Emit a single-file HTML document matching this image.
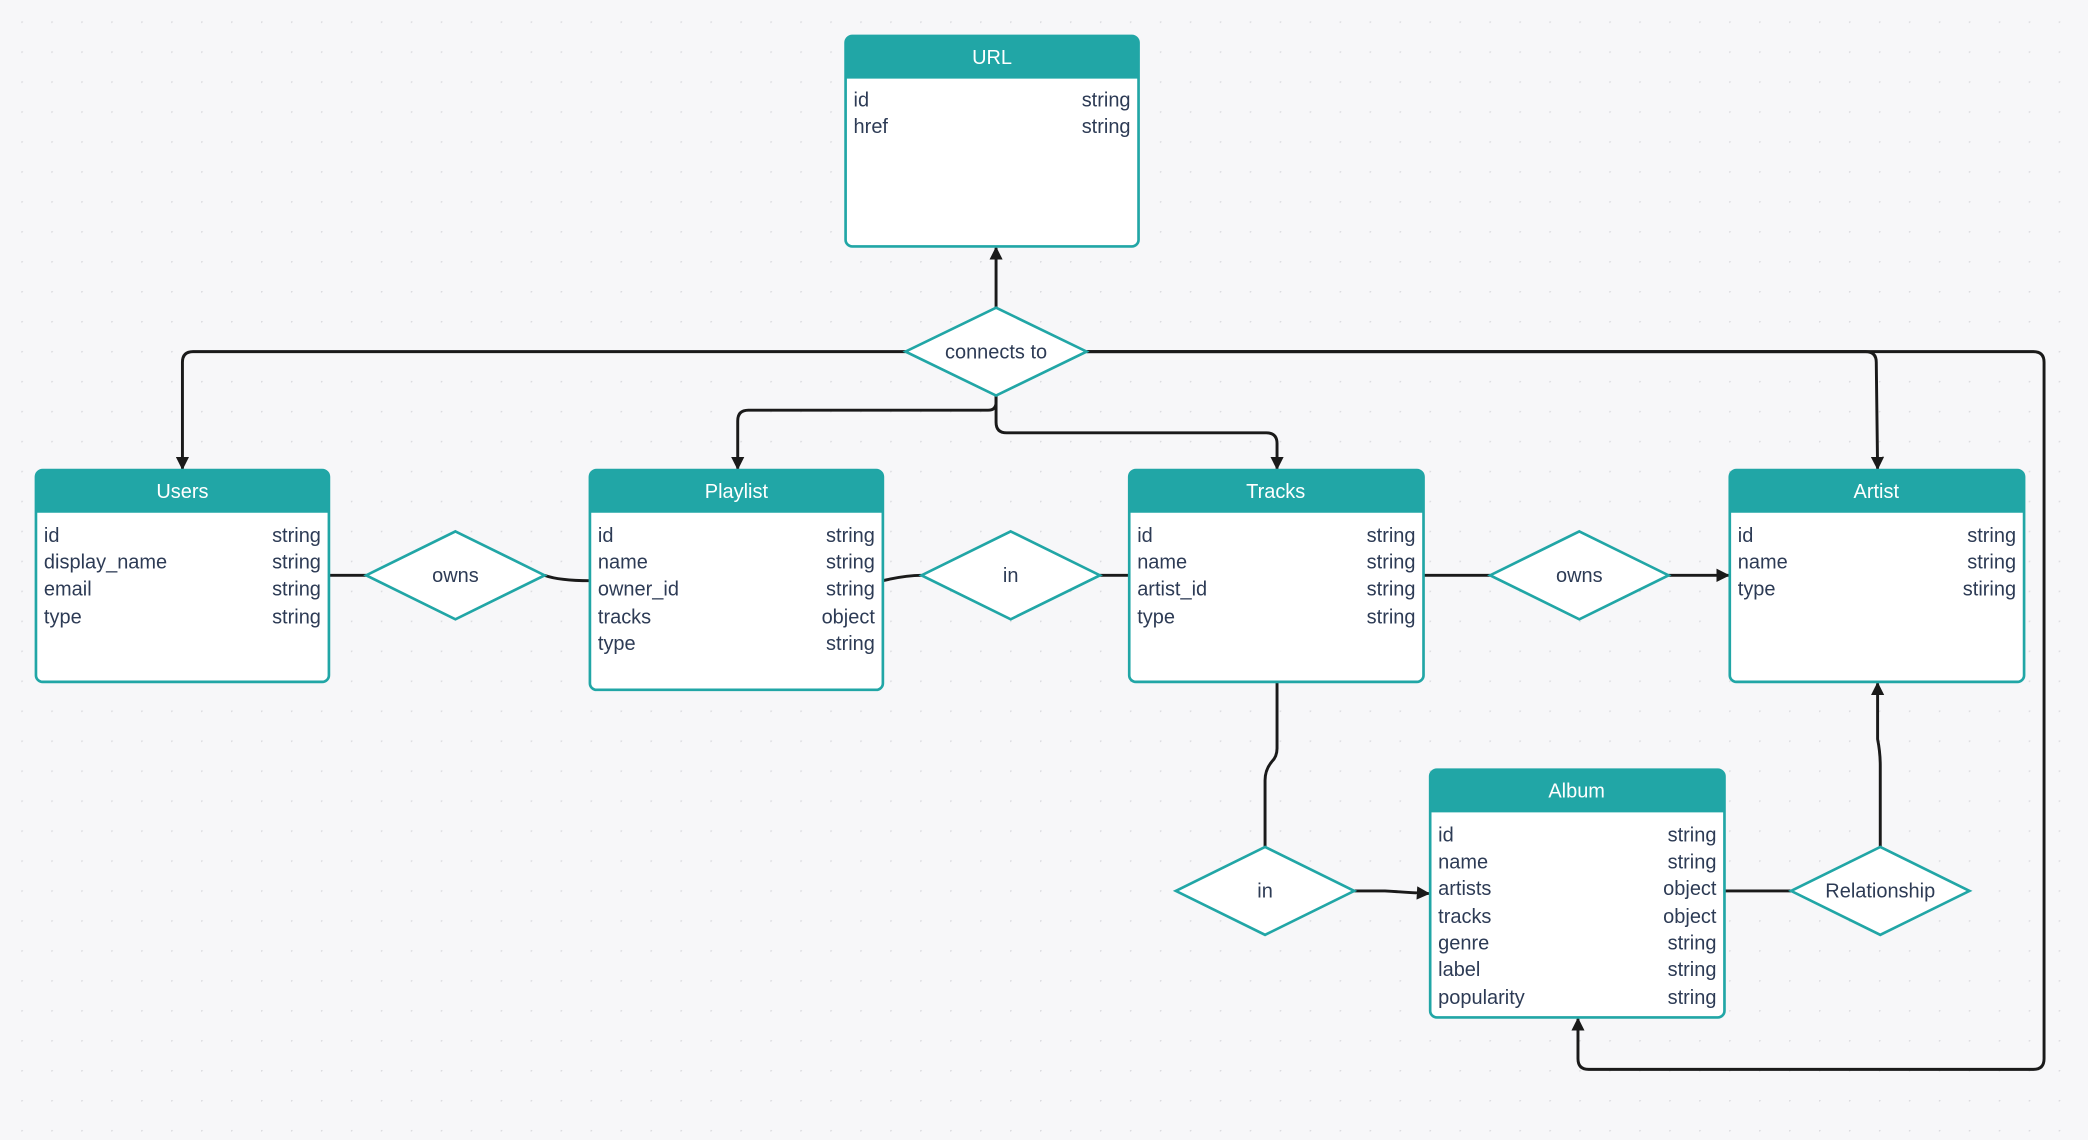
<!DOCTYPE html>
<html><head><meta charset="utf-8"><style>
html,body{margin:0;padding:0;background:#f7f7f9;}
svg{display:block;}
text{font-family:"Liberation Sans","DejaVu Sans",sans-serif;}
.h{fill:#fff;font-size:15px;text-anchor:middle;}
.r{fill:#2d3b55;font-size:15px;}
.t{fill:#2d3b55;font-size:15px;text-anchor:end;}
.d{fill:#2d3b55;font-size:15px;text-anchor:middle;}
.e{fill:none;stroke:#1a1a1a;stroke-width:2.2;}
.dm{fill:#fff;stroke:#21a6a6;stroke-width:2;}
</style></head><body>
<svg width="2088" height="1140" viewBox="0 0 1568 856" xmlns="http://www.w3.org/2000/svg">
<defs>
<pattern id="g" x="16" y="16" width="22.5" height="22.5" patternUnits="userSpaceOnUse"><circle cx="0" cy="0" r="1.3" fill="#dcdce0"/></pattern>
<marker id="a" markerWidth="10" markerHeight="10" refX="9" refY="5" orient="auto" markerUnits="userSpaceOnUse"><path d="M0,0 L10,5 L0,10 z" fill="#1a1a1a"/></marker>
</defs>
<rect width="1568" height="856" fill="#f7f7f9"/>
<rect width="1568" height="856" fill="url(#g)"/>

<!-- edges -->
<path class="e" d="M748,231 L748,186" marker-end="url(#a)"/>
<path class="e" d="M680,264 L145,264 Q137,264 137,272 L137,352" marker-end="url(#a)"/>
<path class="e" d="M748,297 L748,302 Q748,308 742,308 L562,308 Q554,308 554,316 L554,352" marker-end="url(#a)"/>
<path class="e" d="M748,297 L748,317 Q748,325 756,325 L951,325 Q959,325 959,333 L959,352" marker-end="url(#a)"/>
<path class="e" d="M816,264 L1401,264 Q1409,264 1409,272 L1410,352" marker-end="url(#a)"/>
<path class="e" d="M816,264 L1527,264 Q1535,264 1535,272 L1535,795 Q1535,803 1527,803 L1193,803 Q1185,803 1185,795 L1185,765" marker-end="url(#a)"/>
<path class="e" d="M247,432 L275,432"/>
<path class="e" d="M409,432 Q420,436 443,436"/>
<path class="e" d="M663,436 Q680,432 692,432"/>
<path class="e" d="M826,432 L848,432"/>
<path class="e" d="M1069,432 L1119,432"/>
<path class="e" d="M1253,432 L1298,432" marker-end="url(#a)"/>
<path class="e" d="M959,512 L959,562 Q959,568 955,572 Q950,578 950,586 L950,636"/>
<path class="e" d="M1017,669 L1040,669 Q1055,670 1073,671" marker-end="url(#a)"/>
<path class="e" d="M1295,669 Q1320,669 1345,669"/>
<path class="e" d="M1412,636 L1412,575 Q1412,565 1410,555 L1410,513" marker-end="url(#a)"/>

<!-- diamonds -->
<polygon class="dm" points="748,231 816,264 748,297 680,264"/><text class="d" x="748" y="269">connects to</text>
<polygon class="dm" points="342,399 409,432 342,465 275,432"/><text class="d" x="342" y="437">owns</text>
<polygon class="dm" points="759,399 826,432 759,465 692,432"/><text class="d" x="759" y="437">in</text>
<polygon class="dm" points="1186,399 1253,432 1186,465 1119,432"/><text class="d" x="1186" y="437">owns</text>
<polygon class="dm" points="950,636 1017,669 950,702 883,669"/><text class="d" x="950" y="674">in</text>
<polygon class="dm" points="1412,636 1479,669 1412,702 1345,669"/><text class="d" x="1412" y="674">Relationship</text>

<!-- tables -->
<g>
<rect x="635" y="27" width="220" height="158" rx="5" fill="#fff" stroke="#21a6a6" stroke-width="2"/>
<path d="M635,59 L635,32 Q635,27 640,27 L850,27 Q855,27 855,32 L855,59 z" fill="#21a6a6"/>
<text class="h" x="745" y="48">URL</text>
<text class="r" x="641" y="80">id</text><text class="t" x="849" y="80">string</text>
<text class="r" x="641" y="100">href</text><text class="t" x="849" y="100">string</text>
</g>
<g>
<rect x="27" y="353" width="220" height="159" rx="5" fill="#fff" stroke="#21a6a6" stroke-width="2"/>
<path d="M27,385 L27,358 Q27,353 32,353 L242,353 Q247,353 247,358 L247,385 z" fill="#21a6a6"/>
<text class="h" x="137" y="374">Users</text>
<text class="r" x="33" y="407">id</text><text class="t" x="241" y="407">string</text>
<text class="r" x="33" y="427">display_name</text><text class="t" x="241" y="427">string</text>
<text class="r" x="33" y="447">email</text><text class="t" x="241" y="447">string</text>
<text class="r" x="33" y="468">type</text><text class="t" x="241" y="468">string</text>
</g>
<g>
<rect x="443" y="353" width="220" height="165" rx="5" fill="#fff" stroke="#21a6a6" stroke-width="2"/>
<path d="M443,385 L443,358 Q443,353 448,353 L658,353 Q663,353 663,358 L663,385 z" fill="#21a6a6"/>
<text class="h" x="553" y="374">Playlist</text>
<text class="r" x="449" y="407">id</text><text class="t" x="657" y="407">string</text>
<text class="r" x="449" y="427">name</text><text class="t" x="657" y="427">string</text>
<text class="r" x="449" y="447">owner_id</text><text class="t" x="657" y="447">string</text>
<text class="r" x="449" y="468">tracks</text><text class="t" x="657" y="468">object</text>
<text class="r" x="449" y="488">type</text><text class="t" x="657" y="488">string</text>
</g>
<g>
<rect x="848" y="353" width="221" height="159" rx="5" fill="#fff" stroke="#21a6a6" stroke-width="2"/>
<path d="M848,385 L848,358 Q848,353 853,353 L1064,353 Q1069,353 1069,358 L1069,385 z" fill="#21a6a6"/>
<text class="h" x="958" y="374">Tracks</text>
<text class="r" x="854" y="407">id</text><text class="t" x="1063" y="407">string</text>
<text class="r" x="854" y="427">name</text><text class="t" x="1063" y="427">string</text>
<text class="r" x="854" y="447">artist_id</text><text class="t" x="1063" y="447">string</text>
<text class="r" x="854" y="468">type</text><text class="t" x="1063" y="468">string</text>
</g>
<g>
<rect x="1299" y="353" width="221" height="159" rx="5" fill="#fff" stroke="#21a6a6" stroke-width="2"/>
<path d="M1299,385 L1299,358 Q1299,353 1304,353 L1515,353 Q1520,353 1520,358 L1520,385 z" fill="#21a6a6"/>
<text class="h" x="1409" y="374">Artist</text>
<text class="r" x="1305" y="407">id</text><text class="t" x="1514" y="407">string</text>
<text class="r" x="1305" y="427">name</text><text class="t" x="1514" y="427">string</text>
<text class="r" x="1305" y="447">type</text><text class="t" x="1514" y="447">stiring</text>
</g>
<g>
<rect x="1074" y="578" width="221" height="186" rx="5" fill="#fff" stroke="#21a6a6" stroke-width="2"/>
<path d="M1074,610 L1074,583 Q1074,578 1079,578 L1290,578 Q1295,578 1295,583 L1295,610 z" fill="#21a6a6"/>
<text class="h" x="1184" y="599">Album</text>
<text class="r" x="1080" y="632">id</text><text class="t" x="1289" y="632">string</text>
<text class="r" x="1080" y="652">name</text><text class="t" x="1289" y="652">string</text>
<text class="r" x="1080" y="672">artists</text><text class="t" x="1289" y="672">object</text>
<text class="r" x="1080" y="693">tracks</text><text class="t" x="1289" y="693">object</text>
<text class="r" x="1080" y="713">genre</text><text class="t" x="1289" y="713">string</text>
<text class="r" x="1080" y="733">label</text><text class="t" x="1289" y="733">string</text>
<text class="r" x="1080" y="754">popularity</text><text class="t" x="1289" y="754">string</text>
</g>
</svg>
</body></html>
